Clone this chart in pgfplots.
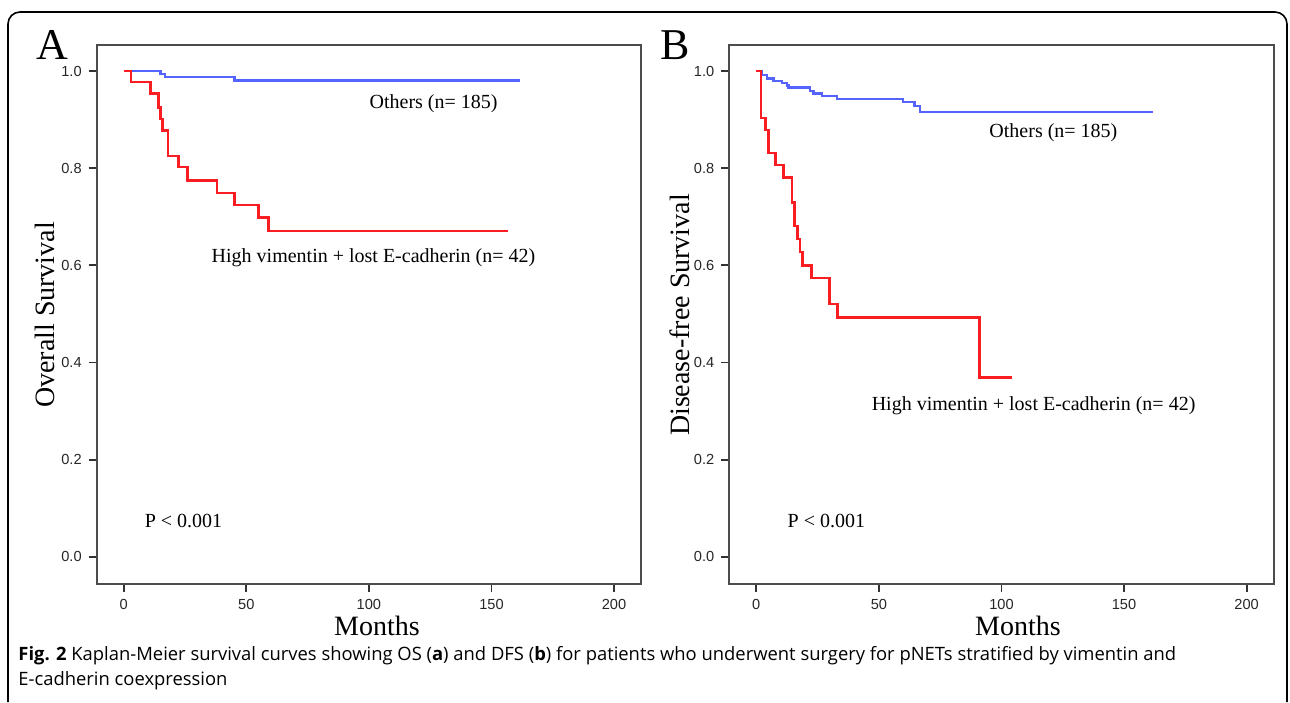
\documentclass[border=0pt]{standalone}
\usepackage{fontspec}
\setmainfont{Liberation Serif}
\setsansfont{Liberation Sans}
\newfontfamily\capfont{Open Sans}
\usepackage{pgfplots}
\pgfplotsset{compat=1.18}

\definecolor{kmblue}{RGB}{85,100,255}
\definecolor{kmred}{RGB}{250,30,35}

\pgfplotsset{km/.style={
    scale only axis, width=272.15pt, height=269.5pt, anchor=south west,
    xmin=-11, xmax=211, ymin=-0.056, ymax=1.0535,
    xtick={0,50,100,150,200}, ytick={0,0.2,0.4,0.6,0.8,1.0},
    xtick pos=lower, ytick pos=left,
    tick align=outside, major tick length=4pt,
    tick style={black!80, line width=0.9pt},
    axis line style={black!70, line width=0.9pt},
    /pgf/number format/assume math mode=true,
    ticklabel style={font=\sffamily\fontsize{7.3}{8}\selectfont, text=black!85},
    yticklabel style={/pgf/number format/fixed, /pgf/number format/fixed zerofill,
        /pgf/number format/precision=1},
    clip=false,
}}
\newcommand{\ann}{\fontsize{10}{12}\selectfont}
\newcommand{\lab}{\fontsize{14}{16}\selectfont}

\begin{document}
\begin{tikzpicture}
\path[use as bounding box] (0,0) rectangle (645pt,351pt);
\draw[line width=0.8pt, rounded corners=6pt] (4pt,0) -- (4pt,345pt) -- (643.5pt,345pt) -- (643.5pt,0);

% A: overall survival
\begin{axis}[km, at={(48.35pt,59pt)}]
\addplot[kmblue, line width=1.25pt, const plot] coordinates {
    (0,1) (15.0,0.994) (16.9,0.988) (45.2,0.980) (161.8,0.980)
};
\addplot[kmred, line width=1.25pt, const plot] coordinates {
    (0,1) (3.0,0.977) (10.9,0.954) (14.2,0.925) (15.0,0.901) (15.9,0.877)
    (18.0,0.825) (22.3,0.802) (26.1,0.775) (38.0,0.749) (45.2,0.724)
    (55.0,0.698) (59.1,0.671) (156.7,0.671)
};
\node[font=\ann] at (axis cs:126.4,0.932) {Others (n= 185)};
\node[font=\ann] at (axis cs:101.9,0.615) {High vimentin + lost E-cadherin (n= 42)};
\node[font=\ann] at (axis cs:24.4,0.073) {P < 0.001};
\end{axis}

% B: disease-free survival
\begin{axis}[km, at={(364.65pt,59pt)}]
\addplot[kmblue, line width=1.25pt, const plot] coordinates {
    (0,1) (2.3,0.992) (4.4,0.985) (7.1,0.979) (10.5,0.975) (12.5,0.970)
    (13.2,0.966) (22.0,0.959) (23.4,0.954) (26.8,0.949) (32.9,0.942)
    (59.9,0.936) (64.5,0.928) (66.7,0.916) (162,0.916)
};
\addplot[kmred, line width=1.25pt, const plot] coordinates {
    (0,1) (1.9,0.903) (3.7,0.879) (5.0,0.831) (7.8,0.806) (11.1,0.781)
    (14.6,0.729) (15.6,0.681) (16.8,0.654) (17.9,0.627) (18.8,0.600)
    (22.6,0.574) (29.8,0.520) (33.1,0.493) (91.0,0.369) (104.1,0.369)
};
\node[font=\ann] at (axis cs:121.2,0.872) {Others (n= 185)};
\node[font=\ann] at (axis cs:113.1,0.312) {High vimentin + lost E-cadherin (n= 42)};
\node[font=\ann] at (axis cs:28.6,0.073) {P < 0.001};
\end{axis}

\node[font=\fontsize{22}{24}\selectfont] at (26pt,328.5pt) {A};
\node[font=\fontsize{22}{24}\selectfont] at (337.5pt,328.5pt) {B};
\node[font=\lab, rotate=90] at (22.5pt,193.5pt) {Overall Survival};
\node[font=\lab, rotate=90] at (340pt,193.5pt) {Disease-free Survival};
\node[font=\lab] at (188.5pt,38pt) {Months};
\node[font=\lab] at (509pt,38pt) {Months};

\node[font=\capfont\fontsize{9.2}{10}\selectfont, anchor=west, inner sep=0pt] at (9pt,23pt)
  {\textbf{Fig. 2} Kaplan-Meier survival curves showing OS (\textbf{a}) and DFS (\textbf{b}) for patients who underwent surgery for pNETs stratified by vimentin and};
\node[font=\capfont\fontsize{9.2}{10}\selectfont, anchor=west, inner sep=0pt] at (9pt,10.5pt)
  {E-cadherin coexpression};
\end{tikzpicture}
\end{document}
